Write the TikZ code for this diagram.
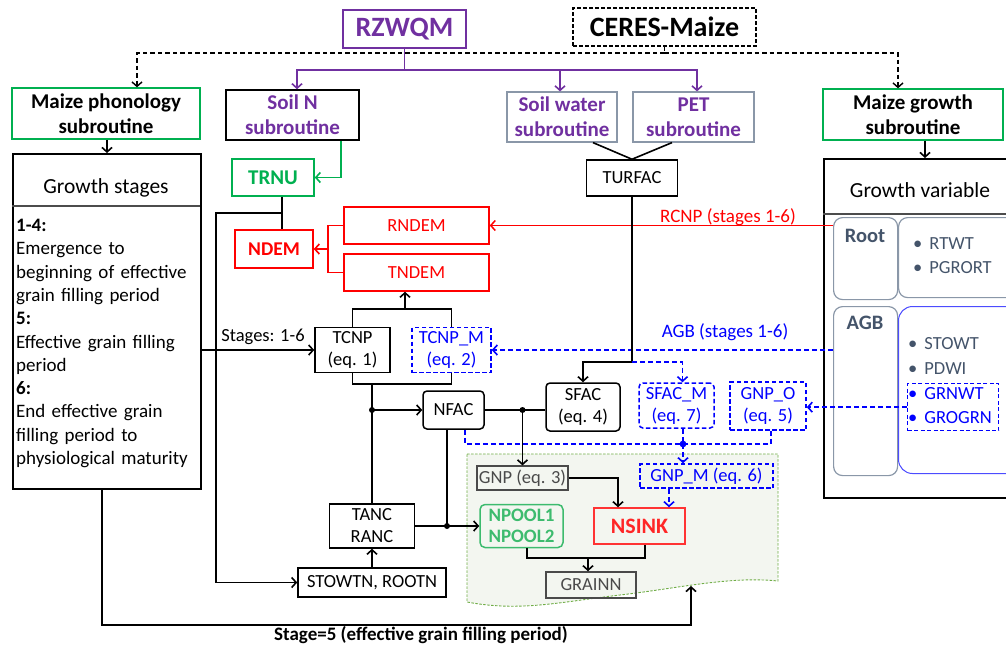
\documentclass[tikz,border=0pt]{standalone}
\usepackage{fontspec}
\setmainfont{Carlito}
\usetikzlibrary{arrows.meta,calc}
\definecolor{cpurple}{HTML}{7030A0}
\definecolor{cgreen}{HTML}{00B050}
\definecolor{cpool}{HTML}{3DBB6E}
\definecolor{cred}{HTML}{FF0000}
\definecolor{cblue}{HTML}{0000FF}
\definecolor{cslate}{HTML}{44546A}
\definecolor{cslateb}{HTML}{8A97A8}
\definecolor{cgrey}{HTML}{4A4A4A}
\definecolor{cfill}{HTML}{F3F6F0}
\definecolor{cdash}{HTML}{70AD47}
\begin{document}
\begin{tikzpicture}[x=1pt,y=-1pt,
  >={Straight Barb[length=4.5pt,width=10pt]},
  every node/.style={inner sep=0pt},
  txt/.style={font=\fontsize{18.5}{22}\selectfont},
  wh/.style 2 args={minimum width=#1pt, minimum height=#2pt},
  bx/.style={draw, line width=1.5pt, align=center, txt},
  ln/.style={line width=1.6pt},
  bd/.style={cblue, line width=1.6pt, dash pattern=on 5pt off 3pt},
  bdbox/.style={draw=cblue, text=cblue, dash pattern=on 4.5pt off 2.5pt},
  kd/.style={black, line width=1.4pt, dash pattern=on 4.5pt off 3pt},
  sub/.style={font=\bfseries\fontsize{21}{25}\selectfont},
  item/.style={anchor=west, font=\fontsize{18.5}{22}\selectfont},
]
\useasboundingbox (0,0) rectangle (1006,646);
\clip (0,0) rectangle (1006,646);

% shaded grain region
\path[fill=cfill, draw=cdash, line width=0.9pt, dash pattern=on 2.5pt off 1.5pt]
  (467,454) -- (778,454) -- (778,581) .. controls (730,576) and (680,588) .. (620,595)
  .. controls (560,602) and (520,612) .. (467,602) -- cycle;
\coordinate (wv) at (691,586);

% top
\node[bx, draw=cpurple, text=cpurple, wh={123}{38}, font=\bfseries\fontsize{28}{30}\selectfont] (rzwqm) at (404.5,29) {RZWQM};
\node[bx, dash pattern=on 4pt off 2pt, wh={183}{38}, font=\bfseries\fontsize{28}{30}\selectfont] (ceres) at (664.5,27) {CERES-Maize};
\node[bx, draw=cgreen, line width=1.3pt, wh={188}{51}, sub] (phon) at (106,113.5) {Maize phonology\\subroutine};
\node[bx, text=cpurple, wh={133}{50}, sub] (soilN) at (292.5,115) {Soil N\\subroutine};
\node[bx, draw=cslateb, line width=1.2pt, text=cpurple, wh={110}{50}, sub] (soilW) at (562,117) {Soil water\\subroutine};
\node[bx, draw=cslateb, line width=1.2pt, text=cpurple, wh={121}{50}, sub] (pet) at (693.5,117) {PET\\subroutine};
\node[bx, draw=cgreen, line width=1.3pt, wh={180}{51}, sub] (gsub) at (913,114.5) {Maize growth\\subroutine};

% left growth stages
\node[draw, ln, wh={188}{335}, anchor=north west] (stg) at (12,153) {};
\draw[line width=1.1pt, black!70] (12,206) -- (200,206);
\node[font=\fontsize{21.5}{24}\selectfont] (stgh) at (106,188) {Growth stages};
\node[anchor=north west, text width=184pt, align=left, font=\fontsize{19}{23.3}\selectfont] (stgt) at (16,219)
 {\textbf{1-4:}\\Emergence to\\beginning of effective\\grain filling period\\\textbf{5:}\\Effective grain filling\\period\\\textbf{6:}\\End effective grain\\filling period to\\physiological maturity};

% middle nodes
\node[bx, draw=cgreen, text=cgreen, wh={82}{37}, font=\bfseries\fontsize{21}{24}\selectfont] (trnu) at (273,177.5) {TRNU};
\node[bx, draw=cred, text=cred, wh={78}{38}, font=\bfseries\fontsize{19.5}{22}\selectfont] (ndem) at (274,249) {NDEM};
\node[bx, draw=cred, text=cred, wh={145}{37}] (rndem) at (416.5,225.5) {RNDEM};
\node[bx, draw=cred, text=cred, wh={145}{37}] (tndem) at (416.5,272.5) {TNDEM};
\node[bx, wh={91}{36}] (turfac) at (632,178) {TURFAC};
\node[bx, wh={75}{45}] (tcnp) at (352.5,350) {TCNP\\(eq. 1)};
\node[bx, bdbox, wh={79}{45}] (tcnpm) at (451.5,350) {TCNP\_M\\(eq. 2)};
\node[bx, rounded corners=4pt, wh={61}{38}] (nfac) at (453.5,410) {NFAC};
\node[bx, rounded corners=4pt, wh={74}{48}] (sfac) at (583,407) {SFAC\\(eq. 4)};
\node[bx, bdbox, rounded corners=4pt, wh={75}{45}] (sfacm) at (676.5,405.5) {SFAC\_M\\(eq. 7)};
\node[bx, bdbox, wh={76}{48}] (gnpo) at (768,406) {GNP\_O\\(eq. 5)};
\node[bx, wh={85}{44}] (tanc) at (372,526) {TANC\\RANC};
\node[bx, wh={148}{29}] (stowtn) at (372,582.5) {STOWTN, ROOTN};
\node[bx, draw=cgrey, text=cgrey, line width=1.2pt, wh={91}{24}] (gnp) at (522.5,478) {GNP (eq. 3)};
\node[bx, bdbox, wh={133}{24}] (gnpm) at (706.5,476) {GNP\_M (eq. 6)};
\node[bx, draw=cpool, text=cpool, rounded corners=5pt, wh={83}{43}, font=\bfseries\fontsize{19}{21}\selectfont] (npool) at (521.5,526) {NPOOL1\\NPOOL2};
\node[bx, draw=cred!80, text=cred!85, wh={91}{36}, font=\bfseries\fontsize{22}{24}\selectfont] (nsink) at (639.5,526) {NSINK};
\node[bx, draw=cgrey, text=cgrey, wh={90}{26}] (grainn) at (591,585) {GRAINN};

% right growth variable
\node[draw, ln, wh={195}{339}, anchor=north west] (gvar) at (823,158) {};
\draw[line width=1.1pt, black!70] (823,214) -- (1006,214);
\node[font=\fontsize{21.5}{24}\selectfont] (gvh) at (920,190) {Growth variable};
\node[draw=cslateb, line width=1.2pt, rounded corners=9pt, wh={64}{82}, anchor=north west] (root) at (833,217) {};
\node[draw=cslateb, line width=1.2pt, rounded corners=9pt, wh={125}{80}, anchor=north west] (rootv) at (898,217) {};
\node[draw=cslateb, line width=1.2pt, rounded corners=9pt, wh={64}{169}, anchor=north west] (agb) at (833,306) {};
\node[draw=cblue!70, line width=1pt, rounded corners=14pt, wh={125}{167}, anchor=north west] (agbv) at (898,306) {};
\node[draw=cblue, line width=1.3pt, dash pattern=on 4pt off 2.5pt, wh={91}{47}, anchor=north west] (grn) at (907,383) {};
\node[font=\bfseries\fontsize{20.5}{24}\selectfont, text=cslate] (rootl) at (865,236) {Root};
\node[font=\bfseries\fontsize{20.5}{24}\selectfont, text=cslate] (agbl) at (865,323) {AGB};
\node[item, text=cslate] (i1) at (913,244) {\textbullet\hspace{7pt}RTWT};
\node[item, text=cslate] (i2) at (913,268) {\textbullet\hspace{7pt}PGRORT};
\node[item, text=cslate] (i3) at (908,344) {\textbullet\hspace{7pt}STOWT};
\node[item, text=cslate] (i4) at (908,369) {\textbullet\hspace{7pt}PDWI};
\node[item, text=cblue] (i5) at (908,394) {\textbullet\hspace{7pt}GRNWT};
\node[item, text=cblue] (i6) at (908,418) {\textbullet\hspace{7pt}GROGRN};

% top connectors
\coordinate (cj) at (664.5,53);
\draw[kd] (ceres.south) -- (cj);
\draw[kd,->] (cj) -| ([xshift=31pt]phon.north);
\draw[kd,->] (cj) -| ([xshift=-15pt]gsub.north);
\coordinate (pj) at (404.5,70);
\draw[cpurple, ln] (rzwqm.south) -- (pj);
\draw[cpurple, ln, ->] (pj) -| ([xshift=4.5pt]soilN.north);
\draw[cpurple, ln, ->] (pj) -| ([xshift=-2pt]soilW.north);
\draw[cpurple, ln, ->] (pj) -| ([xshift=3.5pt]pet.north);
\draw[ln,->] ([xshift=1pt]phon.south) -- ([xshift=1pt]phon.south |- stg.north);
\draw[ln,->] ([xshift=12pt]gsub.south) -- ([xshift=12pt]gsub.south |- gvar.north);
\draw[cgreen, ln, ->] ([xshift=48.5pt]soilN.south) |- (trnu.east);
\draw[ln] ([xshift=31pt]soilW.south) -- (turfac.north);
\draw[ln] ([xshift=-21.5pt]pet.south) -- (turfac.north);

% TRNU / NDEM
\draw[ln] ([xshift=9pt]trnu.south) -- ([xshift=8pt]ndem.north);
\coordinate (tr) at (282,213);
\draw[ln,->] (tr) -- (216,213) |- (stowtn.west);
\draw[cred, ln] (rndem.west) -- ++(-15,0) |- (tndem.west);
\coordinate (rj) at (329,249);
\draw[cred, ln, ->] (rj) -- (ndem.east);
\draw[cred, line width=1.5pt, ->] (root.west |- rndem.east) -- (rndem.east);
\node[text=cred, font=\fontsize{19}{22}\selectfont] (rcnp) at (728,217) {RCNP (stages 1-6)};

% TCNP
\draw[ln] (tcnp.north) -- ++(0,-18) -| (tcnpm.north);
\coordinate (tt) at (405,309);
\draw[ln,->] (tt) -- (tt |- tndem.south);
\draw[ln] (tcnp.south) -- ++(0,11) -| (tcnpm.south);
\coordinate (tb2) at (372,383);
\draw[ln] (tb2) -- (tanc.north);
\coordinate (tnj) at (372,410);
\fill (tnj) circle (3pt);
\draw[ln,->] (tnj) -- (nfac.west);
\draw[ln,->] (stowtn.north) -- (stowtn.north |- tanc.south);
\draw[ln,->] (stg.east |- tcnp.west) -- (tcnp.west);
\node[font=\fontsize{18.5}{22}\selectfont] (stl) at (263,337) {Stages: 1-6};
\draw[bd,->] (agb.west |- tcnpm.east) -- (tcnpm.east);
\node[text=cblue, font=\fontsize{19}{22}\selectfont] (agbt) at (725,332) {AGB (stages 1-6)};

% TURFAC
\coordinate (tj) at (632,362);
\draw[ln] (turfac.south) -- (tj);
\draw[ln,->] (tj) -| (sfac.north);
\draw[bd,->] (tj) -| ([xshift=6pt]sfacm.north);

% NFAC
\draw[ln] (nfac.east) -- (sfac.west |- nfac.east);
\coordinate (nj) at (522.5,410);
\fill (nj) circle (3pt);
\draw[ln,->] (nj) -- (gnp.north);
\coordinate (nb) at (447,526);
\draw[ln] ([xshift=-6.5pt]nfac.south) -- (nb);
\draw[ln,->] (tanc.east) -- (npool.west);
\fill (nb) circle (3pt);

% blue dashed joins
\coordinate (bj) at (683,444);
\draw[bd] ([xshift=11.5pt]nfac.south) |- (bj);
\draw[bd] ([xshift=3pt]gnpo.south) |- (bj);
\draw[bd] ([xshift=6.5pt]sfacm.south) -- (bj);
\fill[cblue] (bj) circle (3.4pt);
\draw[bd,->] (bj) -- (bj |- gnpm.north);
\draw[bd,->] (grn.west) -- (gnpo.east |- grn.west);

% grain region connectors
\draw[ln,->] (gnp.east) -| ([xshift=-21.5pt]nsink.north);
\draw[bd,->] ([xshift=-37.5pt]gnpm.south) -- ([xshift=29.5pt]nsink.north);
\coordinate (gj) at (588,558);
\draw[ln] ([xshift=5.5pt]npool.south) |- (gj) -| ([xshift=5.5pt]nsink.south);
\draw[ln,->] (gj) -- (gj |- grainn.north);

% bottom
\coordinate (sb) at (102,625);
\draw[ln,->] (stg.south -| sb) -- (sb) -| (wv);
\node[font=\bfseries\fontsize{19}{22}\selectfont] (bl) at (421,635) {Stage=5 (effective grain filling period)};
\end{tikzpicture}
\end{document}
